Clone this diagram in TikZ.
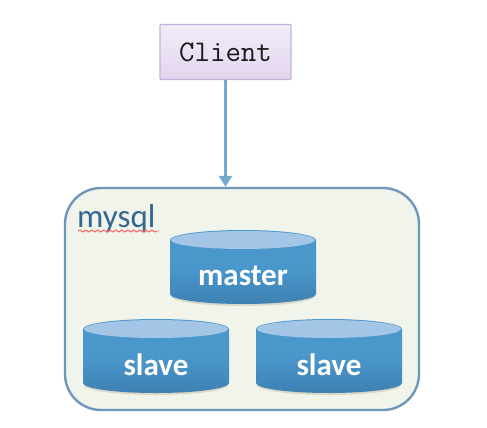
\documentclass[tikz,border=0pt]{standalone}
\usepackage{fontspec}
\setmainfont{Carlito}
\usetikzlibrary{arrows.meta,decorations.pathmorphing}
\definecolor{cylside}{HTML}{4A97CC}
\definecolor{cylbot}{HTML}{3F81B3}
\definecolor{cyltop}{HTML}{A3C6E6}
\definecolor{panelfill}{HTML}{F1F4EA}
\definecolor{panelline}{HTML}{6E97BC}
\definecolor{arrowc}{HTML}{74AAD0}
\definecolor{clienttop}{HTML}{F3ECF9}
\definecolor{clientbot}{HTML}{E2D5EE}
\definecolor{clientline}{HTML}{C4B3D8}
\definecolor{cylshadow}{HTML}{DAD8C8}
\newcommand{\cyl}[4]{% name, center x, top ellipse center y, label
  \fill[cylshadow] (#2-72,#3+4) -- (#2-72,#3+56) arc[start angle=180,end angle=0,x radius=72,y radius=10] -- (#2+72,#3+4) -- cycle;
  \path[top color=cylside,bottom color=cylbot,middle color=cylside] (#2-73,#3) -- (#2-73,#3+54) arc[start angle=180,end angle=0,x radius=73,y radius=10] -- (#2+73,#3) arc[start angle=0,end angle=-180,x radius=73,y radius=10] -- cycle;
  \fill[cyltop] (#2,#3) ellipse[x radius=72,y radius=9];
  \node[cyltext] (#1) at (#2,#3+36) {#4};
}
\tikzset{
  cyltext/.style={text=white,font=\fontsize{31}{31}\selectfont\bfseries,inner sep=0pt},
  clientbox/.style={draw=clientline,line width=1.4pt,top color=clienttop,bottom color=clientbot,minimum width=131pt,minimum height=55pt,inner sep=0pt,rounded corners=1pt,
    font=\ttfamily\fontsize{30}{30}\selectfont,text=black!90},
  panel/.style={draw=panelline,line width=2.4pt,fill=panelfill,rounded corners=36pt,minimum width=354pt,minimum height=222pt,inner sep=0pt},
  link/.style={draw=arrowc,line width=2.6pt,-{Triangle[length=11pt,width=13pt]}},
}
\begin{document}
\begin{tikzpicture}[x=1pt,y=-1pt]
\useasboundingbox (0,0) rectangle (487,428);
\node[panel] (mysqlbox) at (242,299) {};
\node[clientbox] (client) at (225.5,52) {Client};
\draw[link] (client.south) -- (mysqlbox.north -| client.south);
\node[anchor=base west,inner sep=0pt,font=\fontsize{33}{33}\selectfont,text=cylbot!80!black] (mysqllabel) at (77,227) {mysql};
\coordinate (wavea) at (78,231);
\coordinate (waveb) at (159,231);
\draw[red!65,line width=.9pt,decorate,decoration={snake,amplitude=1pt,segment length=6pt}] (wavea) -- (waveb);
\cyl{master}{243}{240}{master}
\cyl{slaveleft}{156}{329}{slave}
\cyl{slaveright}{329}{329}{slave}
\end{tikzpicture}
\end{document}
